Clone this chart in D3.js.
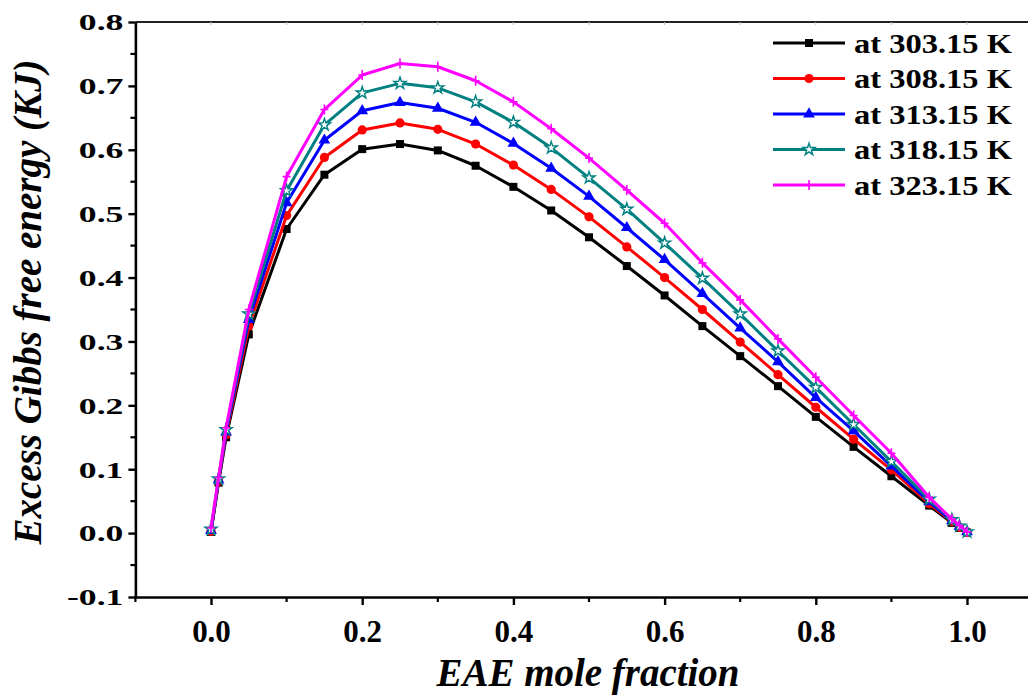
<!DOCTYPE html>
<html>
<head>
<meta charset="utf-8">
<script src="https://cdn.jsdelivr.net/npm/d3@7"></script>
<style>
  html, body { margin: 0; padding: 0; background: #fff; }
  svg { display: block; }
  .tick text { font-family: "Liberation Serif", "Times New Roman", serif; font-weight: bold; fill: #000; }
</style>
</head>
<body>
<svg id="chart" width="1028" height="695"></svg>
<script>
// EAE mole fraction (x) for every measured composition
const moleFraction = [0, 0.01, 0.02, 0.05, 0.1, 0.15, 0.2, 0.25, 0.3, 0.35, 0.4, 0.45, 0.5,
  0.55, 0.6, 0.65, 0.7, 0.75, 0.8, 0.85, 0.9, 0.95, 0.98, 0.99, 1.0];

// Excess Gibbs free energy (KJ) at each temperature
const g303 = [0.002, 0.079, 0.150, 0.311, 0.476, 0.561, 0.601, 0.609, 0.599, 0.575, 0.542, 0.505, 0.463,
  0.418, 0.372, 0.324, 0.277, 0.230, 0.182, 0.135, 0.089, 0.043, 0.016, 0.008, 0.001];
const g308 = [0.003, 0.081, 0.154, 0.324, 0.497, 0.588, 0.631, 0.642, 0.632, 0.609, 0.576, 0.538, 0.495,
  0.448, 0.400, 0.350, 0.299, 0.248, 0.197, 0.147, 0.099, 0.046, 0.018, 0.009, 0.001];
const g313 = [0.004, 0.083, 0.158, 0.334, 0.517, 0.615, 0.661, 0.674, 0.665, 0.643, 0.610, 0.571, 0.527,
  0.478, 0.428, 0.375, 0.321, 0.268, 0.212, 0.160, 0.105, 0.049, 0.019, 0.010, 0.002];
const g318 = [0.006, 0.085, 0.162, 0.343, 0.536, 0.639, 0.689, 0.704, 0.697, 0.675, 0.643, 0.603, 0.556,
  0.507, 0.454, 0.399, 0.343, 0.285, 0.228, 0.170, 0.112, 0.053, 0.021, 0.011, 0.002];
const g323 = [0.008, 0.087, 0.165, 0.350, 0.558, 0.663, 0.717, 0.735, 0.730, 0.708, 0.675, 0.633, 0.587,
  0.537, 0.485, 0.423, 0.365, 0.304, 0.244, 0.184, 0.125, 0.056, 0.022, 0.012, 0.002];

const seriesNames = ["at 303.15 K", "at 308.15 K", "at 313.15 K", "at 318.15 K", "at 323.15 K"];
const seriesColors = ["#000000", "#ff0000", "#0000ff", "#008080", "#ff00ff"];
const seriesShapes = ["square", "circle", "triangle", "star", "plus"];

const xTicks = [0.0, 0.2, 0.4, 0.6, 0.8, 1.0];
const xMinorTicks = [-0.1, 0.1, 0.3, 0.5, 0.7, 0.9];
const yTicks = [-0.1, 0.0, 0.1, 0.2, 0.3, 0.4, 0.5, 0.6, 0.7, 0.8];
const yMinorTicks = [-0.05, 0.05, 0.15, 0.25, 0.35, 0.45, 0.55, 0.65, 0.75];

const series = [g303, g308, g313, g318, g323].map((vals, i) => ({
  name: seriesNames[i], color: seriesColors[i], shape: seriesShapes[i],
  points: vals.map((v, j) => ({ x: moleFraction[j], y: v }))
}));

const svg = d3.select("#chart");
const plotLeft = 135.4, plotRight = 1042.6, plotTop = 22, plotBottom = 597;
const serif = "'Liberation Serif', 'Times New Roman', serif";
// one decimal, plain hyphen for negatives
const fmt = d => d.toFixed(1);

const x = d3.scaleLinear().domain([-0.1, 1.1]).range([plotLeft, plotRight]);
const y = d3.scaleLinear().domain([-0.1, 0.8]).range([plotBottom, plotTop]);

// frame: top edge with faint ticks
svg.append("line").attr("x1", plotLeft).attr("x2", 1028).attr("y1", plotTop).attr("y2", plotTop)
  .attr("stroke", "#222").attr("stroke-width", 2.2);
svg.append("g").selectAll("line").data(d3.range(0, 12).map(i => +(i * 0.1).toFixed(1)))
  .join("line")
  .attr("x1", d => x(d)).attr("x2", d => x(d))
  .attr("y1", plotTop).attr("y2", plotTop + 3)
  .attr("stroke", "#bbb").attr("stroke-width", 1);

// x axis
const xAxis = svg.append("g").attr("transform", `translate(0,${plotBottom})`)
  .call(d3.axisBottom(x).tickValues(xTicks).tickFormat(fmt).tickSize(8).tickSizeOuter(0));
xAxis.select(".domain").attr("stroke-width", 2.6).attr("d", `M${plotLeft},0.5H1028`);
xAxis.selectAll(".tick line").attr("stroke-width", 2.4);
xAxis.selectAll(".tick text").attr("font-size", 31).attr("dy", null).attr("y", 0)
  .attr("transform", "translate(0,45) scale(1,1.05)");
svg.append("g").attr("transform", `translate(0,${plotBottom})`)
  .selectAll("line").data(xMinorTicks).join("line")
  .attr("x1", d => x(d)).attr("x2", d => x(d)).attr("y1", 0).attr("y2", 5)
  .attr("stroke", "#000").attr("stroke-width", 2.2);

// y axis
const yAxis = svg.append("g").attr("transform", `translate(${plotLeft},0)`)
  .call(d3.axisLeft(y).tickValues(yTicks).tickFormat(fmt).tickSize(7).tickSizeOuter(0));
yAxis.select(".domain").attr("stroke-width", 2.6);
yAxis.selectAll(".tick line").attr("stroke-width", 2.4);
yAxis.selectAll(".tick text").attr("font-size", 23).attr("x", 0).attr("dy", "0.34em")
  .attr("text-anchor", "end")
  .attr("transform", "translate(-12,0) scale(1.55,1)");
svg.append("g").attr("transform", `translate(${plotLeft},0)`)
  .selectAll("line").data(yMinorTicks).join("line")
  .attr("x1", 0).attr("x2", -5).attr("y1", d => y(d)).attr("y2", d => y(d))
  .attr("stroke", "#000").attr("stroke-width", 2.2);

// axis titles
svg.append("text")
  .attr("x", 588).attr("y", 686).attr("text-anchor", "middle")
  .attr("font-family", serif)
  .attr("font-style", "italic").attr("font-weight", "bold").attr("font-size", 39)
  .attr("textLength", 303).attr("lengthAdjust", "spacingAndGlyphs")
  .text("EAE mole fraction");
svg.append("text")
  .attr("transform", "translate(41,302) rotate(-90)").attr("text-anchor", "middle")
  .attr("font-family", serif)
  .attr("font-style", "italic").attr("font-weight", "bold").attr("font-size", 39)
  .attr("textLength", 485).attr("lengthAdjust", "spacingAndGlyphs")
  .text("Excess Gibbs free energy (KJ)");

// marker shapes
function marker(sel, shape, color) {
  if (shape === "square") {
    sel.append("rect").attr("x", -4).attr("y", -4).attr("width", 8).attr("height", 8).attr("fill", color);
  } else if (shape === "circle") {
    sel.append("circle").attr("r", 4.6).attr("fill", color);
  } else if (shape === "triangle") {
    sel.append("path").attr("d", d3.symbol(d3.symbolTriangle, 60)()).attr("fill", color);
  } else if (shape === "star") {
    sel.append("path").attr("d", d3.symbol(d3.symbolStar, 45)())
      .attr("fill", "#fff").attr("stroke", color).attr("stroke-width", 1.4);
  } else {
    sel.append("path").attr("d", "M0,-5V5M-4,0H4").attr("stroke", color).attr("stroke-width", 1.6);
  }
}

const line = d3.line().x(d => x(d.x)).y(d => y(d.y));
const plot = svg.append("g");
series.forEach(s => {
  const g = plot.append("g");
  g.append("path").datum(s.points).attr("d", line)
    .attr("fill", "none").attr("stroke", s.color).attr("stroke-width", 3).attr("stroke-linejoin", "round");
  g.selectAll("g.m").data(s.points).join("g").attr("class", "m")
    .attr("transform", d => `translate(${x(d.x)},${y(d.y)})`)
    .each(function () { marker(d3.select(this), s.shape, s.color); });
});

// legend
const legend = svg.append("g");
series.forEach((s, i) => {
  const cy = 43 + i * 35.5;
  const row = legend.append("g").attr("transform", `translate(0,${cy})`);
  row.append("line").attr("x1", 773).attr("x2", 845).attr("y1", 0).attr("y2", 0)
    .attr("stroke", s.color).attr("stroke-width", 3);
  marker(row.append("g").attr("transform", "translate(809,0)"), s.shape, s.color);
  row.append("text").attr("x", 854).attr("y", 9.5)
    .attr("font-family", serif).attr("font-weight", "bold")
    .attr("font-size", 28).attr("textLength", 158).attr("lengthAdjust", "spacingAndGlyphs")
    .text(s.name);
});
</script>
</body>
</html>
